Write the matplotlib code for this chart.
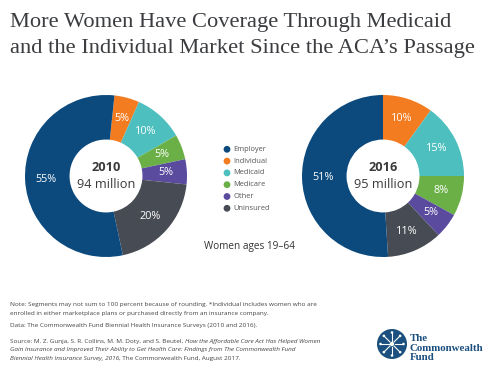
import numpy as np
import matplotlib
matplotlib.use("Agg")
import matplotlib.pyplot as plt
from matplotlib.patches import Circle

# Data
categories = ["Employer", "Individual", "Medicaid", "Medicare", "Other", "Uninsured"]
share_2010 = [55, 5, 10, 5, 5, 20]
share_2016 = [51, 10, 15, 8, 5, 11]
total_2010 = "94 million"
total_2016 = "95 million"
colors = ["#0c4a7d", "#f47c20", "#4cbfbe", "#6bb047", "#5a4b9f", "#474b53"]

plt.rcParams['font.family'] = ['Open Sans', 'DejaVu Sans']

W, H = 500, 375
fig = plt.figure(figsize=(5, 3.75), dpi=100)

# overlay axes in pixel units (origin top-left)
ov = fig.add_axes([0, 0, 1, 1])
ov.set_xlim(0, W)
ov.set_ylim(H, 0)
ov.axis('off')


def donut(cx, cy, r, values, year, total, start):
    ax = fig.add_axes([(cx - r) / W, (H - cy - r) / H, 2 * r / W, 2 * r / H])
    # draw the non-employer slices clockwise from the top, employer last
    vals = values[1:] + values[:1]
    cols = colors[1:] + colors[:1]
    ax.pie(vals, colors=cols, startangle=start, counterclock=False,
           radius=1, wedgeprops=dict(width=0.55, linewidth=0),
           autopct=lambda p: f"{p:.0f}%", pctdistance=0.74,
           textprops=dict(color="white", fontsize=7.8))
    ax.set_xlim(-1, 1)
    ax.set_ylim(-1, 1)
    ax.text(0, 0.1, year, ha='center', va='center', fontsize=9.2, fontweight='bold', color='#3a3a3a')
    ax.text(0, -0.11, total, ha='center', va='center', fontsize=9.2, color='#3a3a3a')


donut(106, 176, 81, share_2010, "2010", total_2010, 84)
donut(383, 176, 81, share_2016, "2016", total_2016, 90)

# title
ov.text(10, 22, "More Women Have Coverage Through Medicaid", fontsize=16.2,
        family='Liberation Serif', color='#3b3d40', va='center', ha='left')
ov.text(10, 49, "and the Individual Market Since the ACA\u2019s Passage", fontsize=16.2,
        family='Liberation Serif', color='#3b3d40', va='center', ha='left')

# legend
for i, (lab, c) in enumerate(zip(categories, colors)):
    y = 149.3 + i * 11.8
    ov.add_patch(Circle((227, y), 3.4, color=c, lw=0))
    ov.text(233, y, lab, fontsize=5.4, color='#555555', va='center', ha='left')

ov.text(204, 246, "Women ages 19\u201364", fontsize=7.2, color='#333333', va='center', ha='left')

# footnotes, with mixed roman / italic pieces
renderer = fig.canvas.get_renderer()
note_lines = [
    (304.3, [("Note: Segments may not sum to 100 percent because of rounding. *Individual includes women who are", 'normal')]),
    (313.3, [("enrolled in either marketplace plans or purchased directly from an insurance company.", 'normal')]),
    (325.7, [("Data: The Commonwealth Fund Biennial Health Insurance Surveys (2010 and 2016).", 'normal')]),
    (341.0, [("Source: M. Z. Gunja, S. R. Collins, M. M. Doty, and S. Beutel, ", 'normal'),
             ("How the Affordable Care Act Has Helped Women", 'italic')]),
    (349.7, [("Gain Insurance and Improved Their Ability to Get Health Care: Findings from The Commonwealth Fund", 'italic')]),
    (358.7, [("Biennial Health Insurance Survey, 2016", 'italic'),
             (", The Commonwealth Fund, August 2017.", 'normal')]),
]
for y, pieces in note_lines:
    x = 10
    for txt, style in pieces:
        t = ov.text(x, y, txt, fontsize=4.55, style=style, color='#444444', va='center', ha='left')
        bb = t.get_window_extent(renderer=renderer)
        x += bb.width * W / fig.bbox.width

# logo
navy = '#1b4f7e'
ov.add_patch(Circle((392, 344), 15, color=navy, lw=0))
for a in np.linspace(0, 2 * np.pi, 8, endpoint=False):
    ov.plot([392 + 3 * np.cos(a), 392 + 11 * np.cos(a)], [344 + 3 * np.sin(a), 344 + 11 * np.sin(a)],
            color='white', lw=0.8)
    ov.add_patch(Circle((392 + 11.5 * np.cos(a), 344 + 11.5 * np.sin(a)), 1.3, color='white', lw=0))
ov.add_patch(Circle((392, 344), 2.2, color='white', lw=0))
for i, word in enumerate(["The", "Commonwealth", "Fund"]):
    ov.text(410, 338.5 + i * 9.6, word, fontsize=7.8, family='Liberation Serif',
            color=navy, va='center', ha='left', fontweight='bold')

fig.savefig("out.png", dpi=100)
